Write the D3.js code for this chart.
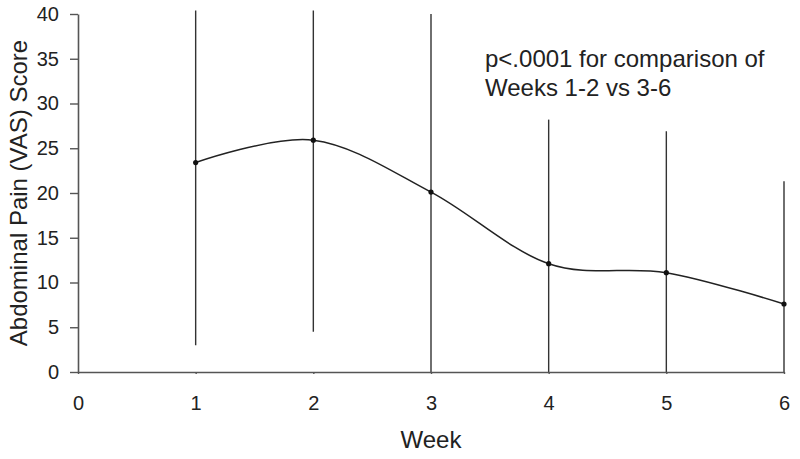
<!DOCTYPE html>
<html>
<head>
<meta charset="utf-8">
<script src="https://cdn.jsdelivr.net/npm/d3@7"></script>
<style>
  body { margin: 0; background: #fff; }
  text { font-family: "Liberation Sans", Arial, sans-serif; fill: #222; }
</style>
</head>
<body>
<div id="chart"></div>
<script>
// chart data
var weeks = [1, 2, 3, 4, 5, 6];
var meanScore = [23.4, 25.9, 20.1, 12.1, 11.1, 7.6];
var barTop = [40.4, 40.4, 40.0, 28.2, 26.9, 21.3];
var barBottom = [3.0, 4.5, 0, 0, 0, 0];
var xTicks = [0, 1, 2, 3, 4, 5, 6];
var yTicks = [0, 5, 10, 15, 20, 25, 30, 35, 40];
var noteLines = ["p<.0001 for comparison of", "Weeks 1-2 vs 3-6"];

var svgWidth = 800;
var svgHeight = 459;

var margin = { top: 14, right: 16, bottom: 87, left: 78 };
var width = svgWidth - margin.left - margin.right;
var height = svgHeight - margin.top - margin.bottom;

var svg = d3.select("#chart")
  .append("svg")
  .attr("width", svgWidth)
  .attr("height", svgHeight);

svg.append("rect")
  .attr("width", svgWidth)
  .attr("height", svgHeight)
  .attr("fill", "#fff");

var chartGroup = svg.append("g")
  .attr("transform", `translate(${margin.left}, ${margin.top})`);

var xScale = d3.scaleLinear().domain([0, 6]).range([0, width]);
var yScale = d3.scaleLinear().domain([0, 40]).range([height, 0]);

// error bars (drawn first so the axes sit on top)
chartGroup.append("g")
  .selectAll("line")
  .data(weeks)
  .enter()
  .append("line")
  .attr("x1", d => xScale(d))
  .attr("x2", d => xScale(d))
  .attr("y1", (d, i) => yScale(barTop[i]))
  .attr("y2", (d, i) => yScale(barBottom[i]))
  .attr("stroke", "#333")
  .attr("stroke-width", 1.4);

// axes
var bottomAxis = d3.axisBottom(xScale)
  .tickValues(xTicks)
  .tickFormat(d3.format("d"))
  .tickSize(2)
  .tickSizeOuter(0)
  .tickPadding(22);

var leftAxis = d3.axisLeft(yScale)
  .tickValues(yTicks)
  .tickSize(8)
  .tickSizeOuter(0)
  .tickPadding(11);

var xAxis = chartGroup.append("g")
  .attr("transform", `translate(0, ${height})`)
  .call(bottomAxis);

var yAxis = chartGroup.append("g")
  .call(leftAxis);

[xAxis, yAxis].forEach(function(ax) {
  ax.select(".domain").attr("stroke", "#555").attr("stroke-width", 1.6);
  ax.selectAll(".tick line").attr("stroke", "#555").attr("stroke-width", 1.4);
  ax.selectAll(".tick text")
    .style("font-family", "'Liberation Sans', Arial, sans-serif")
    .style("font-size", "20px")
    .attr("fill", "#222");
});

// smoothed mean line
var line = d3.line()
  .x((d, i) => xScale(weeks[i]))
  .y(d => yScale(d))
  .curve(d3.curveCardinal.tension(0));

chartGroup.append("path")
  .datum(meanScore)
  .attr("d", line)
  .attr("fill", "none")
  .attr("stroke", "#222")
  .attr("stroke-width", 1.5);

chartGroup.append("g")
  .selectAll("circle")
  .data(meanScore)
  .enter()
  .append("circle")
  .attr("cx", (d, i) => xScale(weeks[i]))
  .attr("cy", d => yScale(d))
  .attr("r", 2.6)
  .attr("fill", "#111");

// axis titles
chartGroup.append("text")
  .attr("x", width / 2)
  .attr("y", height + 76)
  .attr("text-anchor", "middle")
  .style("font-size", "24px")
  .text("Week");

chartGroup.append("text")
  .attr("transform", "rotate(-90)")
  .attr("x", -height / 2)
  .attr("y", -51)
  .attr("text-anchor", "middle")
  .style("font-size", "24px")
  .text("Abdominal Pain (VAS) Score");

// annotation
var note = chartGroup.append("text")
  .attr("x", 407)
  .attr("y", 53)
  .style("font-size", "24px");

note.selectAll("tspan")
  .data(noteLines)
  .enter()
  .append("tspan")
  .attr("x", 407)
  .attr("dy", (d, i) => i === 0 ? 0 : 28.5)
  .text(d => d);
</script>
</body>
</html>
